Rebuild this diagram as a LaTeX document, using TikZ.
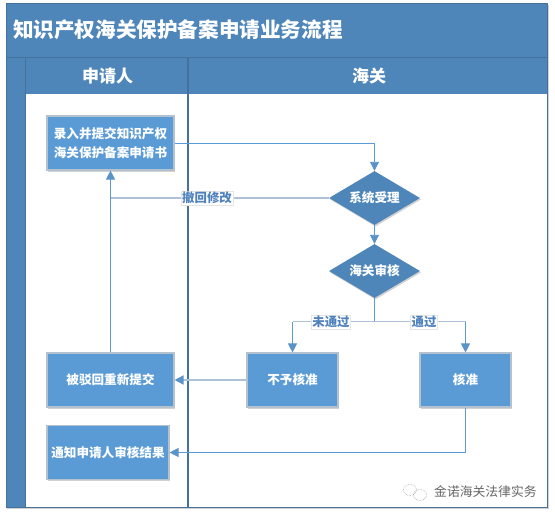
\documentclass[tikz,border=0pt]{standalone}
\usepackage{fontspec}
\setmainfont{Noto Sans CJK SC}
\usetikzlibrary{arrows.meta,shapes.geometric,shadows,calc}
\definecolor{band}{HTML}{4F86B9}
\definecolor{bandline}{HTML}{44719E}
\definecolor{boxfill}{HTML}{5B9BD5}
\definecolor{boxedge}{HTML}{B4C1CE}
\definecolor{wire}{HTML}{5B9BD5}
\definecolor{softwire}{HTML}{ADC1D8}
\definecolor{headwire}{HTML}{5A93C8}
\definecolor{labeltext}{HTML}{4F81BD}
\tikzset{
  softshadow/.style={drop shadow={shadow xshift=1pt,shadow yshift=-1.5pt,fill=black,opacity=.18}},
  stepbox/.style={draw=boxedge,line width=1.1pt,fill=boxfill,text=white,font=\fontsize{12.6}{19}\selectfont\bfseries,align=center,inner sep=0pt,softshadow},
  choice/.style={diamond,fill=band,text=white,font=\fontsize{12.6}{15}\selectfont\bfseries,inner sep=0pt,softshadow},
  thinwire/.style={draw=wire,line width=.9pt},
  softline/.style={draw=softwire,line width=1.6pt},
  tip/.style={-{Triangle[length=9pt,width=9pt,color=headwire]}},
  flowlabel/.style={draw=black!10,fill=white,text=labeltext,font=\fontsize{12.4}{14}\selectfont\bfseries,inner sep=1pt},
  headtext/.style={text=white,font=\fontsize{17}{20}\selectfont\bfseries,inner sep=0pt}
}
\begin{document}
\begin{tikzpicture}[x=1pt,y=-1pt]
\useasboundingbox (0,0) rectangle (555,517);
% frame and bands
\fill[white,softshadow] (6,3) rectangle (547.5,507);
\fill[band] (6,3) rectangle (547.5,57);
\fill[band] (6,57) rectangle (25,507);
\fill[band] (25,57) rectangle (547.5,94);
\draw[bandline,line width=.8pt] (6,57.5) -- (547.5,57.5);
\draw[bandline,line width=.8pt] (25,57) -- (25,507);
\draw[bandline,line width=1.2pt] (188,57) -- (188,507);
\draw[bandline,line width=1pt] (6,3) rectangle (547.5,507);
\node[headtext,anchor=west,font=\fontsize{20.6}{24}\selectfont\bfseries] (title) at (13,30) {知识产权海关保护备案申请业务流程};
\node[headtext] (appl) at (107.5,76) {申请人};
\node[headtext] (cust) at (369,76) {海关};
% steps
\node[stepbox,minimum width=127pt,minimum height=54pt] (b1) at (110.5,143) {录入并提交知识产权\\海关保护备案申请书};
\node[stepbox,minimum width=127pt,minimum height=54pt] (b2) at (110.5,380) {被驳回重新提交};
\node[stepbox,minimum width=122pt,minimum height=54pt] (b3) at (108,452.5) {通知申请人审核结果};
\node[stepbox,minimum width=91pt,minimum height=54pt] (no) at (292.5,380) {不予核准};
\node[stepbox,minimum width=91pt,minimum height=54pt] (yes) at (465.5,380) {核准};
\node[choice,minimum width=91pt,minimum height=54pt,aspect=1.7] (d1) at (374.5,198) {系统受理};
\node[choice,minimum width=91pt,minimum height=54pt,aspect=1.7] (d2) at (374.5,271) {海关审核};
\coordinate (fork) at (374.5,321.5);
% connectors
\draw[thinwire,tip] (b1.east) -| (d1.north);
\draw[thinwire,tip] (d1.south) -- (d2.north);
\draw[thinwire] (d2.south) -- (fork);
\draw[softline] (d1.west) -- (b1.south |- d1.west);
\draw[thinwire,tip] (b2.north) -- (b1.south);
\draw[softline] (fork) -- (no.north |- fork);
\draw[softline] (fork) -- (yes.north |- fork);
\draw[thinwire,tip] (no.north |- fork) -- (no.north);
\draw[thinwire,tip] (yes.north |- fork) -- (yes.north);
\draw[softline,tip] (no.west) -- (b2.east);
\draw[thinwire,tip] (yes.south) |- (b3.east);
% labels
\node[flowlabel] (l1) at (207,198) {撤回修改};
\node[flowlabel] (l2) at (331,322) {未通过};
\node[flowlabel] (l3) at (424,322) {通过};
% watermark
\draw[black!45,line width=.5pt,densely dotted] (410,490) ellipse (6.5pt and 5.5pt);
\draw[black!45,line width=.5pt,densely dotted] (420,495) ellipse (6.5pt and 5.5pt);
\node[text=black!60,font=\fontsize{12.8}{15}\selectfont,inner sep=0pt,anchor=west] (mark) at (434,492) {金诺海关法律实务};
\end{tikzpicture}
\end{document}
